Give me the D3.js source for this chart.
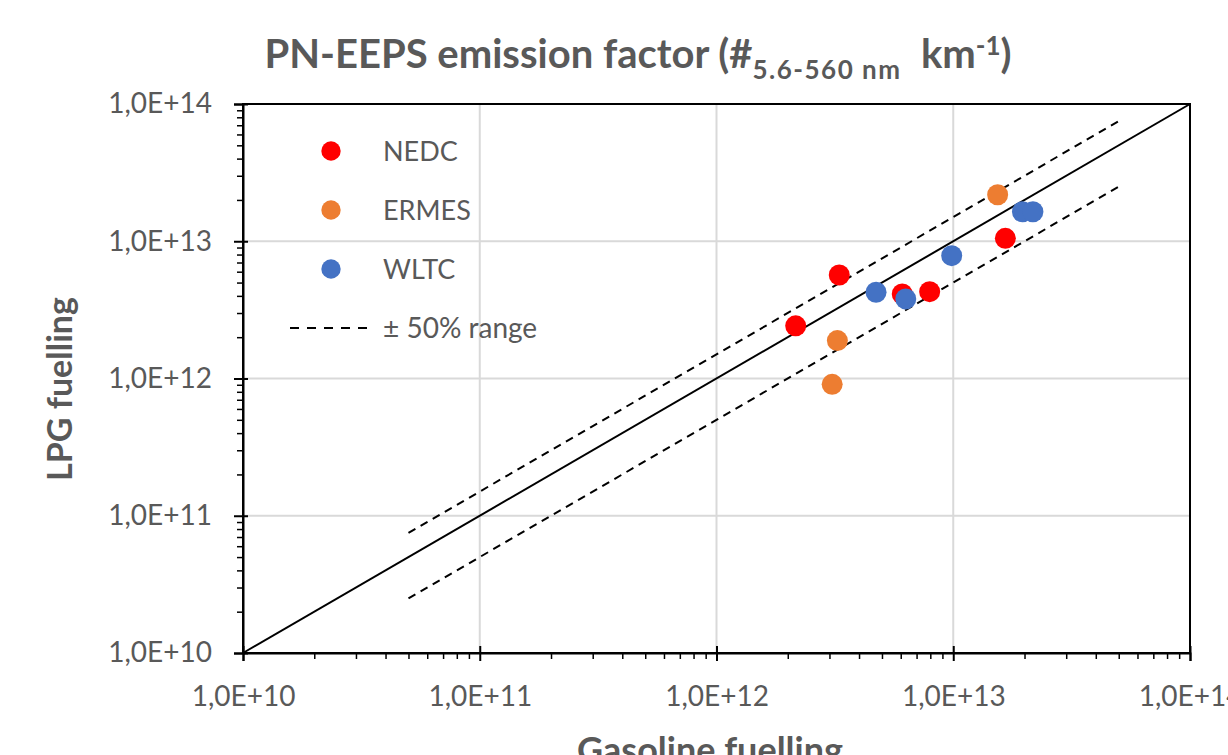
<!DOCTYPE html>
<html>
<head>
<meta charset="utf-8">
<script src="https://cdn.jsdelivr.net/npm/d3@7"></script>
<style>
  html, body { margin: 0; padding: 0; background: #fff; }
  svg { display: block; }
  text { font-family: Lato, "Open Sans", sans-serif; }
</style>
</head>
<body>
<svg id="chart" width="1228" height="755"></svg>
<script>
// ---- Data ----
const seriesNames = ["NEDC", "ERMES", "WLTC"];
const seriesColors = ["#FF0000", "#ED7D31", "#4472C4"];
const nedcGasoline = [2.16e12, 3.30e12, 6.09e12, 7.95e12, 1.66e13];
const nedcLPG      = [2.42e12, 5.68e12, 4.13e12, 4.29e12, 1.05e13];
const ermesGasoline = [1.54e13, 3.24e12, 3.08e12];
const ermesLPG      = [2.18e13, 1.89e12, 9.07e11];
const wltcGasoline = [4.72e12, 6.30e12, 9.85e12, 1.96e13, 2.17e13];
const wltcLPG      = [4.25e12, 3.80e12, 7.85e12, 1.64e13, 1.64e13];
const tickValues = [1e10, 1e11, 1e12, 1e13, 1e14];
const oneToOneX = [1e10, 1e14];
const rangeX = [5e10, 5e13];
const rangeFactors = [1.5, 0.5];
const rangeLabel = "± 50% range";
const chartTitle = ["PN-EEPS emission factor (#", "5.6-560 nm", " km", "-1", ")"];
const xTitle = "Gasoline fuelling";
const yTitle = "LPG fuelling";

// ---- Layout ----
const svg = d3.select("#chart");
const L = 243, R = 1190, T = 104, B = 653;
const gray = "#595959";

const x = d3.scaleLog().domain([1e10, 1e14]).range([L, R]);
const y = d3.scaleLog().domain([1e10, 1e14]).range([B, T]);
const fmt = d => "1,0E+" + Math.round(Math.log10(d));

// minor tick values
const minor = [];
for (let e = 10; e < 14; e++) for (let m = 2; m <= 9; m++) minor.push(m * Math.pow(10, e));

// gridlines
const grid = svg.append("g");
grid.selectAll("line.v").data(tickValues.slice(1, -1)).join("line")
  .attr("x1", d => x(d)).attr("x2", d => x(d)).attr("y1", T).attr("y2", B)
  .attr("stroke", "#D9D9D9").attr("stroke-width", 2);
grid.selectAll("line.h").data(tickValues.slice(1, -1)).join("line")
  .attr("y1", d => y(d)).attr("y2", d => y(d)).attr("x1", L).attr("x2", R)
  .attr("stroke", "#D9D9D9").attr("stroke-width", 2);

// frame
svg.append("rect").attr("x", L).attr("y", T).attr("width", R - L).attr("height", B - T)
  .attr("fill", "none").attr("stroke", "#000").attr("stroke-width", 2);

// axes - minor ticks
svg.append("g").attr("transform", `translate(0,${B})`)
  .call(d3.axisBottom(x).tickValues(minor).tickSize(6).tickFormat(""))
  .call(g => g.select(".domain").remove())
  .call(g => g.selectAll("line").attr("stroke", "#000").attr("stroke-width", 1.5));
svg.append("g").attr("transform", `translate(${L},0)`)
  .call(d3.axisLeft(y).tickValues(minor).tickSize(6).tickFormat(""))
  .call(g => g.select(".domain").remove())
  .call(g => g.selectAll("line").attr("stroke", "#000").attr("stroke-width", 1.5));

// axes - major ticks with labels
const xAxis = svg.append("g").attr("transform", `translate(0,${B})`)
  .call(d3.axisBottom(x).tickValues(tickValues).tickSize(8).tickPadding(25).tickFormat(fmt));
xAxis.select(".domain").attr("stroke", "#000").attr("stroke-width", 2);
xAxis.selectAll("line").attr("stroke", "#000").attr("stroke-width", 2).attr("y1", -7);
xAxis.selectAll("text").attr("fill", gray).attr("font-size", 28).attr("dy", "0.71em")
  .attr("font-family", "Lato");

const yAxis = svg.append("g").attr("transform", `translate(${L},0)`)
  .call(d3.axisLeft(y).tickValues(tickValues).tickSize(9).tickPadding(22).tickFormat(fmt));
yAxis.select(".domain").attr("stroke", "#000").attr("stroke-width", 2);
yAxis.selectAll("line").attr("stroke", "#000").attr("stroke-width", 2).attr("x1", 5);
yAxis.selectAll("text").attr("fill", gray).attr("font-size", 28).attr("font-family", "Lato");

// reference lines
const line = d3.line().x(d => x(d[0])).y(d => y(d[1]));
svg.append("path").datum(oneToOneX.map(v => [v, v])).attr("d", line)
  .attr("fill", "none").attr("stroke", "#000").attr("stroke-width", 2);
rangeFactors.forEach(f => {
  svg.append("path").datum(rangeX.map(v => [v, v * f])).attr("d", line)
    .attr("fill", "none").attr("stroke", "#000").attr("stroke-width", 2)
    .attr("stroke-dasharray", "8,6");
});

// points
const seriesData = [
  nedcGasoline.map((v, i) => [v, nedcLPG[i]]),
  ermesGasoline.map((v, i) => [v, ermesLPG[i]]),
  wltcGasoline.map((v, i) => [v, wltcLPG[i]])
];
seriesData.forEach((pts, s) => {
  svg.append("g").selectAll("circle").data(pts).join("circle")
    .attr("cx", d => x(d[0])).attr("cy", d => y(d[1])).attr("r", 10.5)
    .attr("fill", seriesColors[s]);
});

// legend
const leg = svg.append("g");
const legY = [151, 210, 269];
seriesNames.forEach((n, i) => {
  leg.append("circle").attr("cx", 331).attr("cy", legY[i]).attr("r", 9.7).attr("fill", seriesColors[i]);
  leg.append("text").attr("x", 383).attr("y", legY[i]).attr("dy", "0.36em")
    .attr("font-size", 27).attr("fill", gray).text(n);
});
leg.append("line").attr("x1", 290).attr("x2", 370).attr("y1", 328).attr("y2", 328)
  .attr("stroke", "#000").attr("stroke-width", 2).attr("stroke-dasharray", "9,8");
leg.append("text").attr("x", 383).attr("y", 328).attr("dy", "0.36em")
  .attr("font-size", 28).attr("fill", gray).text(rangeLabel);

// title
const t = svg.append("text").attr("x", 638).attr("y", 68).attr("text-anchor", "middle")
  .attr("font-weight", "bold").attr("fill", gray).attr("font-size", 40);
t.append("tspan").text(chartTitle[0]);
t.append("tspan").attr("font-size", 26).attr("dy", 11).attr("letter-spacing", 1.5).text(chartTitle[1]);
t.append("tspan").attr("font-size", 40).attr("dy", -11).attr("letter-spacing", 0).text("\u00A0" + chartTitle[2]);
t.append("tspan").attr("font-size", 26).attr("dy", -13).text(chartTitle[3]);
t.append("tspan").attr("font-size", 40).attr("dy", 13).text(chartTitle[4]);

// axis titles
svg.append("text").attr("x", 710).attr("y", 763).attr("text-anchor", "middle")
  .attr("font-weight", "bold").attr("font-size", 36).attr("fill", gray).text(xTitle);
svg.append("text").attr("transform", "translate(72,389) rotate(-90)").attr("text-anchor", "middle")
  .attr("font-weight", "bold").attr("font-size", 34).attr("fill", gray).text(yTitle);
</script>
</body>
</html>
